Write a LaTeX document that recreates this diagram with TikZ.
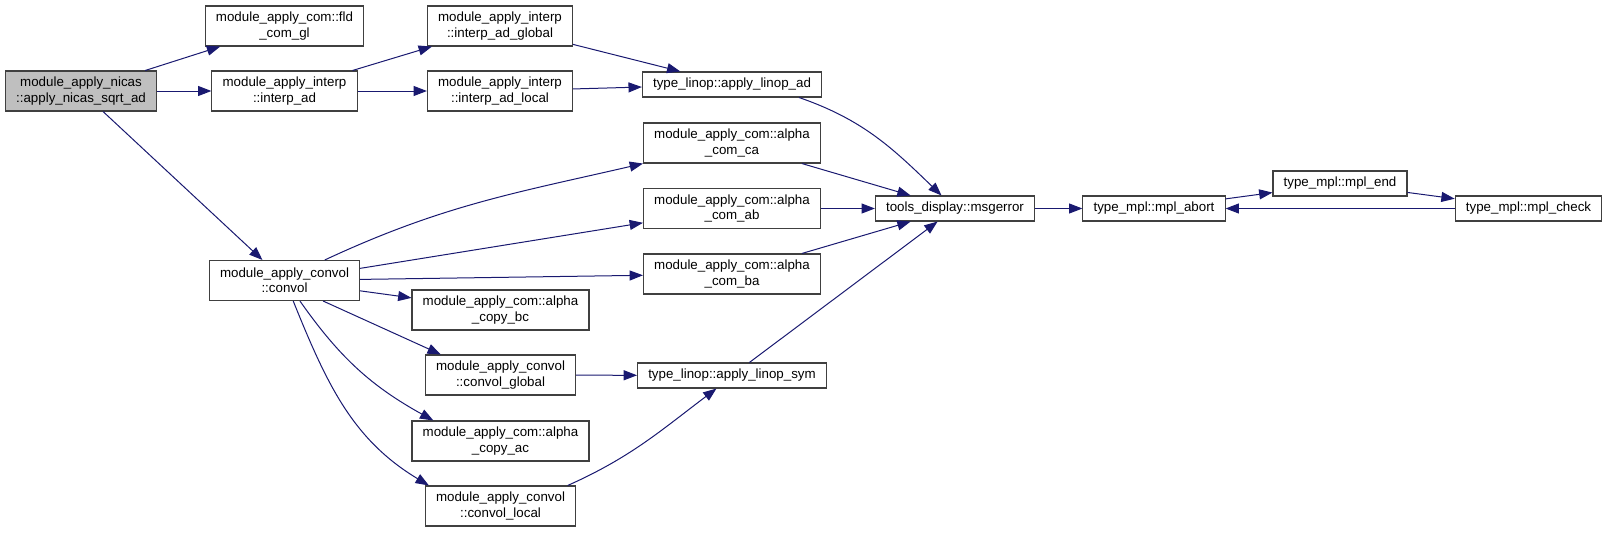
\documentclass[tikz,border=0pt]{standalone}
\usepackage{fontspec}
\setmainfont{Liberation Sans}
\usepackage{tikz}
\usetikzlibrary{arrows.meta}
\definecolor{edgeblue}{RGB}{25,25,112}
\definecolor{rootgray}{RGB}{191,191,191}

\begin{document}
\begin{tikzpicture}[x=0.75pt, y=-0.75pt,
  box/.style={rectangle, draw=black!75, line width=0.8pt, minimum height=30pt,
    font=\fontsize{10}{11.5}\selectfont, align=center, inner xsep=8pt, inner ysep=1pt},
  slim/.style={box, minimum height=18.75pt},
  arrow/.style={-{Triangle[length=10pt,width=7.5pt]}, draw=edgeblue, line width=0.75pt}
]
  \useasboundingbox (0,0) rectangle (1608,532);

  % Root
  \node[box, fill=rootgray] (nicas) at (81,91) {module\_apply\_nicas\\::apply\_nicas\_sqrt\_ad};

  % Interpolation column
  \node[box] (fldcom) at (284.5,26) {module\_apply\_com::fld\\\_com\_gl};
  \node[box] (interp) at (284.5,91) {module\_apply\_interp\\::interp\_ad};
  \node[box] (interpglob) at (500,26) {module\_apply\_interp\\::interp\_ad\_global};
  \node[box] (interploc) at (500,91) {module\_apply\_interp\\::interp\_ad\_local};

  % Convolution column
  \node[box] (convol) at (284.5,280.5) {module\_apply\_convol\\::convol};
  \node[box] (copybc) at (500.5,310) {module\_apply\_com::alpha\\\_copy\_bc};
  \node[box] (convglob) at (500.5,375) {module\_apply\_convol\\::convol\_global};
  \node[box] (copyac) at (500.5,441) {module\_apply\_com::alpha\\\_copy\_ac};
  \node[box] (convloc) at (500.5,506) {module\_apply\_convol\\::convol\_local};

  % Operators and communications
  \node[slim] (linopad) at (732,84.5) {type\_linop::apply\_linop\_ad};
  \node[box] (comca) at (732,143) {module\_apply\_com::alpha\\\_com\_ca};
  \node[box] (comab) at (732,208.5) {module\_apply\_com::alpha\\\_com\_ab};
  \node[box] (comba) at (732,274) {module\_apply\_com::alpha\\\_com\_ba};
  \node[slim] (linopsym) at (732,375.5) {type\_linop::apply\_linop\_sym};

  % Error handling
  \node[slim] (msgerror) at (955,208.5) {tools\_display::msgerror};
  \node[slim] (mplabort) at (1154,208.5) {type\_mpl::mpl\_abort};
  \node[slim] (mplend) at (1340,183.5) {type\_mpl::mpl\_end};
  \node[slim] (mplcheck) at (1528.5,208.5) {type\_mpl::mpl\_check};

  % Calls
  \draw[arrow] (nicas) -- (fldcom);
  \draw[arrow] (nicas) -- (interp);
  \draw[arrow] (nicas) -- (convol);
  \draw[arrow] (interp) -- (interpglob);
  \draw[arrow] (interp) -- (interploc);
  \draw[arrow] (interpglob) -- (linopad);
  \draw[arrow] (interploc) -- (linopad);
  \draw[arrow] (linopad.-11.6) to[out=-19, in=136] (msgerror.136);
  \draw[arrow] (comca) -- (msgerror);
  \draw[arrow] (comab) -- (msgerror);
  \draw[arrow] (comba) -- (msgerror);
  \draw[arrow] (linopsym) -- (msgerror);
  \draw[arrow] (msgerror) -- (mplabort);
  \draw[arrow] (mplabort) -- (mplend);
  \draw[arrow] (mplend) -- (mplcheck);
  \draw[arrow] (mplcheck) -- (mplabort);

  \draw[arrow] (convol.27) to[out=25, in=193] (comca.193);
  \draw[arrow] (convol) -- (comab);
  \draw[arrow] (convol) -- (comba);
  \draw[arrow] (convol) -- (copybc);
  \draw[arrow] (convol.-28) -- (convglob.161);
  \draw[arrow] (convol.-53) to[out=-55, in=151] (copyac.163);
  \draw[arrow] (convol.-67.5) to[out=-68, in=149] (convloc.164.6);
  \draw[arrow] (convglob) -- (linopsym);
  \draw[arrow] (convloc.17.7) to[out=24, in=217] (linopsym.-140.2);
\end{tikzpicture}
\end{document}
